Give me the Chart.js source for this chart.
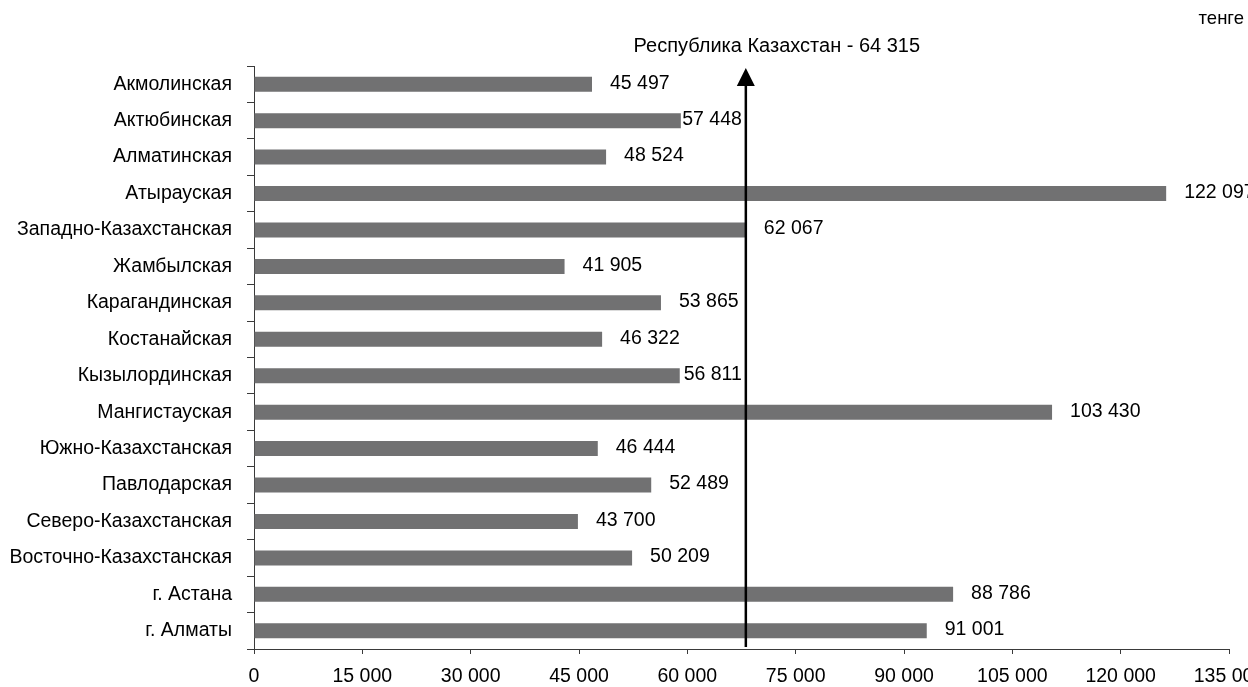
<!DOCTYPE html>
<html>
<head>
<meta charset="utf-8">
<script src="https://cdn.jsdelivr.net/npm/chart.js@4/dist/chart.umd.min.js"></script>
<style>
  html, body { margin: 0; padding: 0; background: #fff; }
  #wrap { width: 1248px; height: 687px; }
</style>
</head>
<body>
<div id="wrap"><canvas id="wage-chart"></canvas></div>
<script>
//data
const regions = ["Акмолинская", "Актюбинская", "Алматинская", "Атырауская", "Западно-Казахстанская",
    "Жамбылская", "Карагандинская", "Костанайская", "Кызылординская", "Мангистауская",
    "Южно-Казахстанская", "Павлодарская", "Северо-Казахстанская", "Восточно-Казахстанская",
    "г. Астана", "г. Алматы"];

// bar lengths
const barValues = [46800, 59100, 48750, 126300, 68100, 43000, 56350, 48200, 58950, 110500,
    47600, 55000, 44850, 52350, 96800, 93150];

// numbers printed next to the bars
const printedValues = [45497, 57448, 48524, 122097, 62067, 41905, 53865, 46322, 56811, 103430,
    46444, 52489, 43700, 50209, 88786, 91001];

const xTicks = [0, 15000, 30000, 45000, 60000, 75000, 90000, 105000, 120000, 135000];

const averageAt = 68100;
const averageText = "Республика Казахстан - 64 315";
const unitText = "тенге";

const FONT = "'Liberation Sans', Arial, sans-serif";
const AXIS = "#3a3a3a";

function fmt(n) {
    return String(n).replace(/\B(?=(\d{3})+(?!\d))/g, " ");
}

//labels at bar ends, arrow and texts
const extras = {
    id: 'extras',
    afterDatasetsDraw(chart) {
        const ctx = chart.ctx;
        const xs = chart.scales.x;
        const meta = chart.getDatasetMeta(0);
        const ax = xs.getPixelForValue(averageAt);

        ctx.save();
        ctx.fillStyle = "#000";
        ctx.font = "19.5px " + FONT;
        ctx.textAlign = "left";
        ctx.textBaseline = "middle";
        meta.data.forEach((bar, i) => {
            const txt = fmt(printedValues[i]);
            const w = ctx.measureText(txt).width;
            let x = bar.x + 18;
            // squeeze the label in before the arrow if it would cross it
            if (bar.x < ax && x + w > ax - 3) {
                x = Math.max(bar.x + 1, ax - 4 - w);
            }
            ctx.fillText(txt, x, bar.y - 1);
        });

        // average arrow
        const top = chart.chartArea.top + 2;
        ctx.strokeStyle = "#000";
        ctx.lineWidth = 2.5;
        ctx.beginPath();
        ctx.moveTo(ax, chart.chartArea.bottom - 2);
        ctx.lineTo(ax, top + 16);
        ctx.stroke();
        ctx.beginPath();
        ctx.moveTo(ax, top);
        ctx.lineTo(ax - 9, top + 18);
        ctx.lineTo(ax + 9, top + 18);
        ctx.closePath();
        ctx.fill();

        ctx.font = "20px " + FONT;
        ctx.textAlign = "center";
        ctx.fillText(averageText, ax + 31, 46);

        ctx.font = "18.5px " + FONT;
        ctx.textAlign = "right";
        ctx.fillText(unitText, 1244, 19);
        ctx.restore();
    }
};

const wageCanvas = document.getElementById("wage-chart");

let wageChart = new Chart(wageCanvas, {
    type: 'bar',
    data: {
        labels: regions,
        datasets: [{
            data: barValues,
            backgroundColor: '#717172',
            barPercentage: 0.41,
            categoryPercentage: 1
        }]
    },
    options: {
        indexAxis: 'y',
        responsive: true,
        maintainAspectRatio: false,
        animation: false,
        layout: {
            padding: { top: 66, right: 19, left: 0, bottom: 0 }
        },
        scales: {
            x: {
                min: 0,
                max: 135000,
                afterBuildTicks: axis => { axis.ticks = xTicks.map(v => ({ value: v })); },
                afterFit: axis => {
                    axis.height = 38;
                    axis.paddingLeft = 0;
                    axis.paddingRight = 0;
                },
                grid: { drawOnChartArea: false, tickLength: 5, color: AXIS },
                border: { color: AXIS, width: 1 },
                ticks: {
                    color: '#000',
                    font: { family: FONT, size: 19.5 },
                    padding: 11,
                    maxRotation: 0,
                    autoSkip: false,
                    callback: v => fmt(v)
                }
            },
            y: {
                afterFit: axis => { axis.width = 254; },
                grid: { drawOnChartArea: false, tickLength: 7, color: AXIS, offset: true },
                border: { color: AXIS, width: 1 },
                ticks: {
                    color: '#000',
                    font: { family: FONT, size: 19.5 },
                    padding: 15,
                    autoSkip: false
                }
            }
        },
        plugins: {
            legend: { display: false },
            tooltip: { enabled: false }
        }
    },
    plugins: [extras]
});
</script>
</body>
</html>
